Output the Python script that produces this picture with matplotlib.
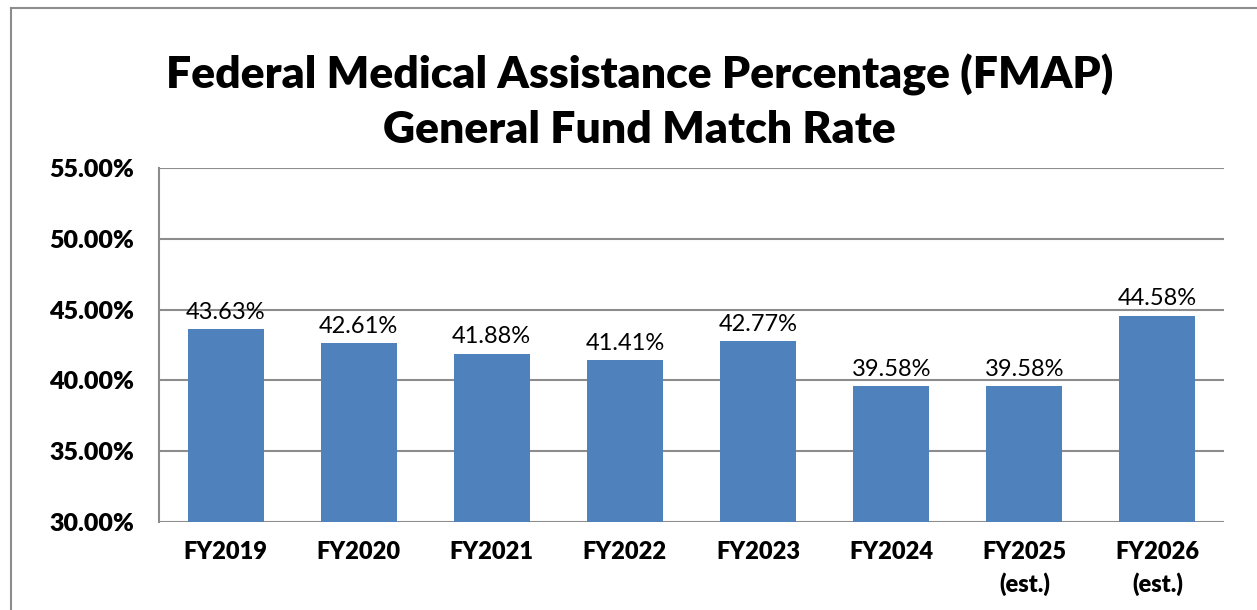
import matplotlib.pyplot as plt
from matplotlib.lines import Line2D
from matplotlib.ticker import FuncFormatter

# data
categories = ["FY2019", "FY2020", "FY2021", "FY2022", "FY2023", "FY2024",
              "FY2025\n(est.)", "FY2026\n(est.)"]
rates = [43.63, 42.61, 41.88, 41.41, 42.77, 39.58, 39.58, 44.58]

plt.rcParams['font.family'] = ['Lato', 'DejaVu Sans']

fig = plt.figure(figsize=(12.57, 6.10), dpi=100)
ax = fig.add_axes([159/1257, 1-522/610, (1224-159)/1257, (522-168)/610])

x = range(len(categories))
bars = ax.bar(x, rates, width=0.57, color="#4F81BD", zorder=3)

for i, v in enumerate(rates):
    ax.text(i, v + 0.45, f"{v:.2f}%", ha='center', va='bottom', fontsize=17, color='black', zorder=4)

ax.set_ylim(30, 55)
ax.set_xlim(-0.5, len(categories) - 0.5)
ax.set_yticks([30, 35, 40, 45, 50, 55])
ax.yaxis.set_major_formatter(FuncFormatter(lambda v, p: f"{v:.2f}%"))
ax.set_xticks(list(x))
ax.set_xticklabels(categories, fontweight='heavy', fontsize=17, linespacing=1.45)
for lab in ax.get_yticklabels():
    lab.set_fontweight('heavy')
    lab.set_fontsize(18)

ax.tick_params(axis='both', length=0)
ax.tick_params(axis='y', pad=18)
ax.tick_params(axis='x', pad=14)
ax.grid(axis='y', color='#8c8c8c', linewidth=1.5, zorder=0)
for s in ['top', 'right', 'bottom']:
    ax.spines[s].set_visible(False)
ax.spines['left'].set_color('#8c8c8c')
ax.spines['left'].set_linewidth(1.5)

fig.text(0.509, 1-75/610, "Federal Medical Assistance Percentage (FMAP)",
         ha='center', va='center', fontsize=32, fontweight='heavy')
fig.text(0.509, 1-130/610, "General Fund Match Rate",
         ha='center', va='center', fontsize=32, fontweight='heavy')

# chart area border (only left and top visible in the crop)
fig.add_artist(Line2D([11/1257, 11/1257], [0, 1-8/610], transform=fig.transFigure, color='#8c8c8c', lw=1.5))
fig.add_artist(Line2D([11/1257, 1], [1-8/610, 1-8/610], transform=fig.transFigure, color='#8c8c8c', lw=1.5))

fig.savefig("out.png", dpi=100)
